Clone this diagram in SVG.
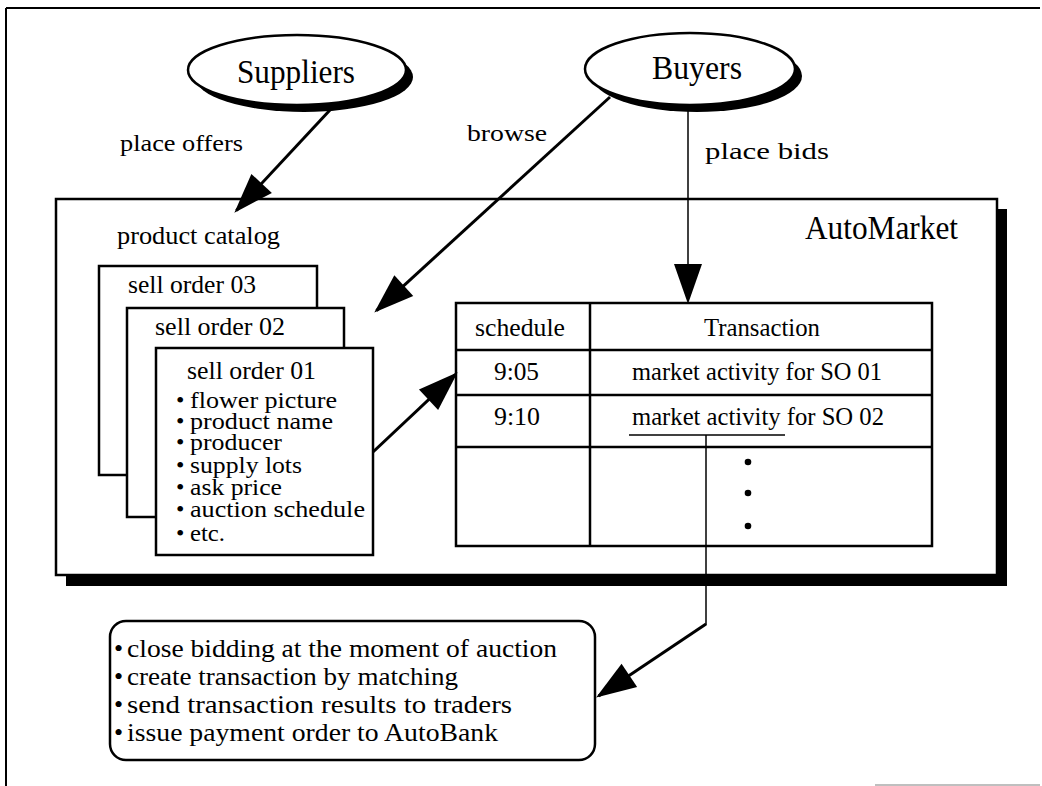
<svg xmlns="http://www.w3.org/2000/svg" width="1042" height="786" viewBox="0 0 1042 786">
<style>
text{font-family:"Liberation Serif","Times New Roman",serif;fill:#000}
.t33{font-size:33px}
.t26{font-size:26px}
.t24{font-size:24px}
.box{fill:#fff;stroke:#000;stroke-width:2.5}
.thin{stroke:#000;stroke-width:1.5;fill:none}
.thick{stroke:#000;stroke-width:3;fill:none}
</style>
<defs>
<marker id="ah" markerUnits="userSpaceOnUse" markerWidth="42" markerHeight="28" refX="37" refY="14" orient="auto" overflow="visible">
<path d="M0,0 L40,14 L0,28 z" fill="#000"/>
</marker>
</defs>
<rect width="1042" height="786" fill="#fff"/>
<g id="frame">
<line x1="6" y1="8" x2="1040" y2="8" stroke="#000" stroke-width="2"/>
<line x1="6" y1="8" x2="6" y2="786" stroke="#000" stroke-width="2"/>
<line x1="875" y1="785" x2="1040" y2="785" stroke="#aaa" stroke-width="1.5"/>
</g>
<g id="automarket">
<rect x="66" y="209" width="941" height="377" fill="#000"/>
<rect x="56" y="199" width="941" height="376" class="box"/>
<text x="805" y="239" class="t33" textLength="153" lengthAdjust="spacingAndGlyphs">AutoMarket</text>
<text x="117" y="244" class="t26" textLength="163" lengthAdjust="spacingAndGlyphs">product catalog</text>
</g>
<g id="suppliers">
<ellipse cx="304" cy="77" rx="109" ry="35" fill="#000"/>
<ellipse cx="297" cy="70" rx="109" ry="35" class="box"/>
<text x="237" y="83" class="t33" textLength="118" lengthAdjust="spacingAndGlyphs">Suppliers</text>
</g>
<g id="buyers">
<ellipse cx="697" cy="76" rx="105" ry="36" fill="#000"/>
<ellipse cx="690" cy="69" rx="105" ry="36" class="box"/>
<text x="652" y="79" class="t33" textLength="90" lengthAdjust="spacingAndGlyphs">Buyers</text>
</g>
<g id="sell-order-03">
<rect x="99" y="266" width="218" height="209" class="box"/>
<text x="128" y="293" class="t26" textLength="128" lengthAdjust="spacingAndGlyphs">sell order 03</text>
</g>
<g id="sell-order-02">
<rect x="127" y="308" width="217" height="209" class="box"/>
<text x="155" y="335" class="t26" textLength="130" lengthAdjust="spacingAndGlyphs">sell order 02</text>
</g>
<g id="sell-order-01">
<rect x="156" y="348" width="217" height="207" class="box"/>
<text x="187" y="379" class="t26" textLength="129" lengthAdjust="spacingAndGlyphs">sell order 01</text>
<g class="t24">
<text x="176" y="408">•</text><text x="190" y="408" textLength="147" lengthAdjust="spacingAndGlyphs">flower picture</text>
<text x="176" y="429">•</text><text x="190" y="429" textLength="143" lengthAdjust="spacingAndGlyphs">product name</text>
<text x="176" y="450">•</text><text x="190" y="450" textLength="92" lengthAdjust="spacingAndGlyphs">producer</text>
<text x="176" y="473">•</text><text x="190" y="473" textLength="112" lengthAdjust="spacingAndGlyphs">supply lots</text>
<text x="176" y="495">•</text><text x="190" y="495" textLength="92" lengthAdjust="spacingAndGlyphs">ask price</text>
<text x="176" y="517">•</text><text x="190" y="517" textLength="175" lengthAdjust="spacingAndGlyphs">auction schedule</text>
<text x="176" y="541">•</text><text x="190" y="541" textLength="35" lengthAdjust="spacingAndGlyphs">etc.</text>
</g>
</g>
<g id="transaction-table">
<rect x="456" y="303" width="476" height="243" class="box"/>
<line x1="590" y1="303" x2="590" y2="546" stroke="#000" stroke-width="2.5"/>
<line x1="456" y1="350" x2="932" y2="350" stroke="#000" stroke-width="2.5"/>
<line x1="456" y1="395" x2="932" y2="395" stroke="#000" stroke-width="2.5"/>
<line x1="456" y1="447" x2="932" y2="447" stroke="#000" stroke-width="2.5"/>
<text x="475" y="336" class="t26" textLength="90" lengthAdjust="spacingAndGlyphs">schedule</text>
<text x="704" y="336" class="t26" textLength="116" lengthAdjust="spacingAndGlyphs">Transaction</text>
<text x="494" y="380" class="t26" textLength="45" lengthAdjust="spacingAndGlyphs">9:05</text>
<text x="632" y="380" class="t26" textLength="250" lengthAdjust="spacingAndGlyphs">market activity for SO 01</text>
<text x="494" y="425" class="t26" textLength="46" lengthAdjust="spacingAndGlyphs">9:10</text>
<text x="632" y="425" class="t26" textLength="252" lengthAdjust="spacingAndGlyphs">market activity for SO 02</text>
<circle cx="748" cy="462" r="3.3"/>
<circle cx="748" cy="493" r="3.3"/>
<circle cx="748" cy="526" r="3.3"/>
</g>
<g id="auction-tasks">
<rect x="110" y="621" width="485" height="139" rx="16" class="box"/>
<g class="t26">
<text x="114" y="657">•</text><text x="127" y="657" textLength="430" lengthAdjust="spacingAndGlyphs">close bidding at the moment of auction</text>
<text x="114" y="685">•</text><text x="127" y="685" textLength="331" lengthAdjust="spacingAndGlyphs">create transaction by matching</text>
<text x="114" y="713">•</text><text x="127" y="713" textLength="385" lengthAdjust="spacingAndGlyphs">send transaction results to traders</text>
<text x="114" y="741">•</text><text x="127" y="741" textLength="371" lengthAdjust="spacingAndGlyphs">issue payment order to AutoBank</text>
</g>
</g>
<g id="connectors">
<line x1="330" y1="110" x2="236.4" y2="210.5" class="thick" marker-end="url(#ah)"/>
<text x="120" y="151" class="t24" textLength="123" lengthAdjust="spacingAndGlyphs">place offers</text>
<line x1="610" y1="97" x2="376.5" y2="310.6" class="thick" marker-end="url(#ah)"/>
<text x="467" y="141" class="t24" textLength="80" lengthAdjust="spacingAndGlyphs">browse</text>
<line x1="688" y1="106" x2="688" y2="301" class="thin" marker-end="url(#ah)"/>
<text x="705" y="159" class="t24" textLength="124" lengthAdjust="spacingAndGlyphs">place bids</text>
<line x1="373" y1="452" x2="455.5" y2="374.4" class="thick" marker-end="url(#ah)"/>
<line x1="629" y1="435" x2="785" y2="435" class="thin"/>
<line x1="706" y1="435" x2="706" y2="625" class="thin"/>
<line x1="706" y1="624" x2="598.6" y2="695.9" class="thick" marker-end="url(#ah)"/>
</g>
</svg>
